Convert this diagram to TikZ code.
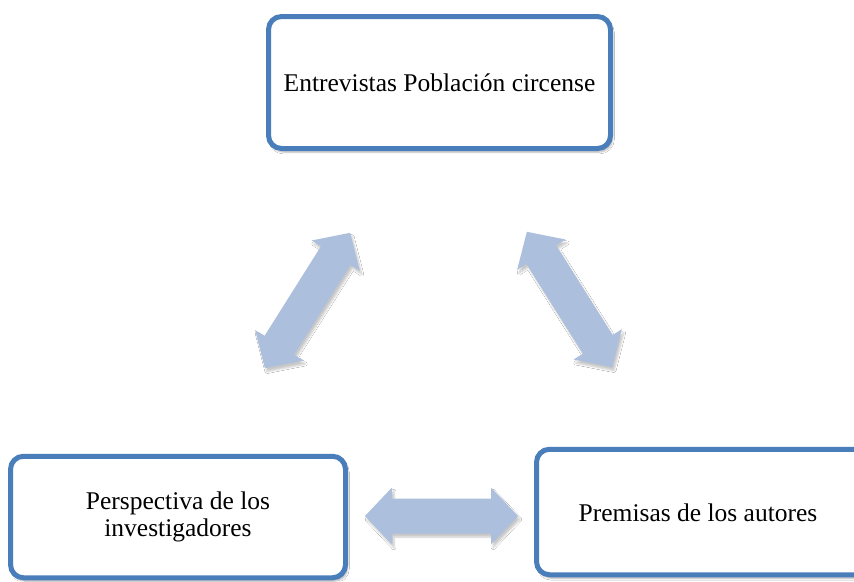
\documentclass[tikz,border=0pt]{standalone}
\usepackage{fontspec}
\setmainfont{Liberation Serif}
\usetikzlibrary{shadows.blur}
\definecolor{boxblue}{RGB}{74,126,187}
\definecolor{arrowblue}{RGB}{172,191,220}
\tikzset{
  box/.style={draw=boxblue, line width=5pt, rounded corners=13pt, fill=white,
    align=center, inner sep=0pt,
    font=\fontsize{25.5}{27}\selectfont,
    blur shadow={shadow xshift=2pt, shadow yshift=-3.5pt, shadow blur steps=6, shadow opacity=30}},
  label/.style={align=center, inner sep=0pt, font=\fontsize{25.5}{27}\selectfont},
  arrowfill/.style={fill=arrowblue,
    blur shadow={shadow xshift=2pt, shadow yshift=-3.5pt, shadow blur steps=6, shadow opacity=22}}
}
\newcommand{\blockarrow}[3]{%
  \begin{scope}[shift={(#1)}, rotate=#2]
    \path[arrowfill] (-#3/2,0) -- (-#3/2+27,-28.5) -- (-#3/2+27,-17.5) -- (#3/2-27,-17.5)
      -- (#3/2-27,-28.5) -- (#3/2,0) -- (#3/2-27,28.5) -- (#3/2-27,17.5)
      -- (-#3/2+27,17.5) -- (-#3/2+27,28.5) -- cycle;
  \end{scope}}
\begin{document}
\begin{tikzpicture}[x=1pt, y=-1pt]
  \useasboundingbox (0,0) rectangle (854,581);
  \fill[white] (0,0) rectangle (854,581);
  \clip (0,0) rectangle (854,581);
  \node[box, minimum width=342pt, minimum height=132pt] (top) at (439.5,82.5) {Entrevistas Población circense};
  \node[box, minimum width=335pt, minimum height=121.5pt] (left) at (178,517) {Perspectiva de los\\investigadores};
  \node[box, minimum width=345pt, minimum height=125.5pt] (right) at (709,512) {};
  \node[label] (righttext) at (698,513) {Premisas de los autores};
  \coordinate (a1) at (307.5,300.5);
  \coordinate (a2) at (569.5,299.5);
  \coordinate (a3) at (441.5,516);
  \blockarrow{a1}{57.8}{160}
  \blockarrow{a2}{-57.8}{160}
  \blockarrow{a3}{0}{153}
\end{tikzpicture}
\end{document}
